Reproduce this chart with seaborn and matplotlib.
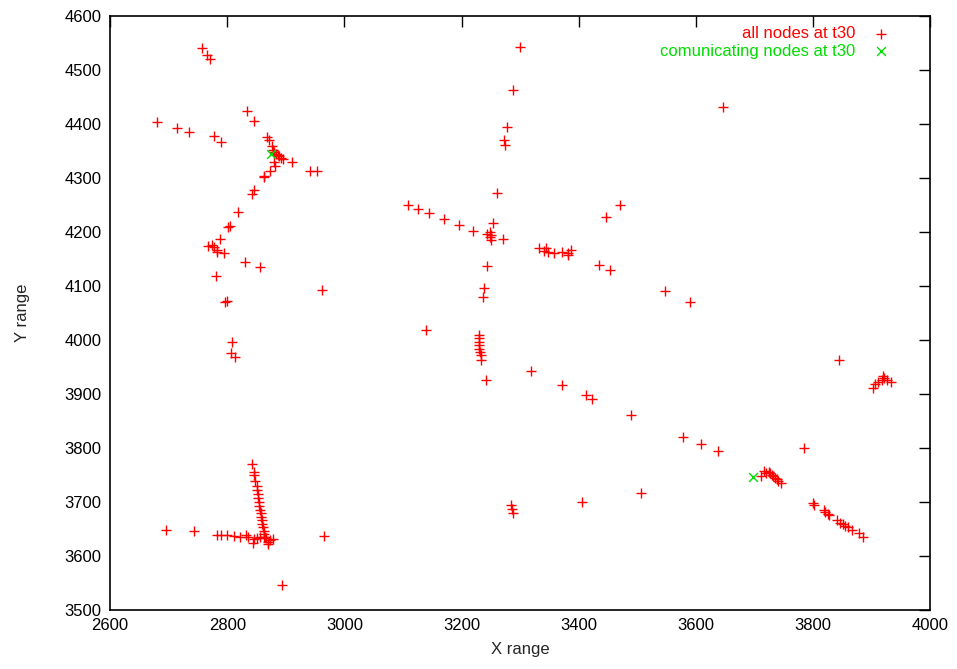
import matplotlib
matplotlib.use("Agg")
import matplotlib.pyplot as plt
import seaborn as sns
import pandas as pd

all_x = [
    2757, 2765, 2770,
    2680, 2715, 2735, 2778, 2790, 2833, 2845,
    2868, 2872, 2876, 2878, 2880, 2883, 2886, 2889, 2892, 2895, 2910, 2880, 2882, 2873, 2863, 2862,
    2941, 2954,
    2845, 2842, 2819, 2802, 2804, 2788, 2768, 2774, 2778, 2782, 2783, 2795, 2830, 2856, 2780, 2962,
    2797, 2800, 2808, 2806, 2814,
    2842, 2845, 2846, 2848, 2850, 2851, 2852, 2853, 2854, 2855, 2856, 2857, 2858, 2859, 2860, 2861,
    2862, 2863, 2864,
    2695, 2743, 2782, 2790, 2800, 2812, 2822, 2832, 2836, 2845, 2844, 2850, 2856, 2862, 2867, 2870,
    2873, 2878, 2869, 2966, 2894,
    3299, 3287, 3277, 3273, 3275, 3260,
    3108, 3125, 3145, 3170, 3196, 3220, 3254, 3243, 3249, 3250, 3250, 3249, 3270,
    3332, 3340, 3345, 3348, 3357, 3371, 3381, 3382, 3386,
    3447, 3470, 3434, 3454, 3547, 3590, 3647,
    3243, 3238, 3237, 3140,
    3230, 3230, 3229, 3229, 3230, 3232, 3233, 3233,
    3241, 3318, 3371, 3413, 3422, 3490, 3507, 3406, 3285, 3286, 3288,
    3578, 3609, 3637, 3845, 3784,
    3902, 3906, 3911, 3917, 3919, 3921, 3926, 3933,
    3712, 3717, 3720, 3724, 3727, 3730, 3732, 3735, 3738, 3741, 3745,
    3800, 3801,
    3818, 3821, 3825, 3828, 3841, 3846, 3851, 3855, 3859, 3866, 3878, 3886,
]
all_y = [
    4540, 4528, 4520,
    4403, 4392, 4385, 4378, 4366, 4425, 4405,
    4376, 4370, 4360, 4352, 4348, 4345, 4342, 4340, 4337, 4335, 4329, 4330, 4322, 4313, 4304, 4302,
    4313, 4314,
    4278, 4270, 4238, 4210, 4212, 4187, 4174, 4176, 4172, 4167, 4164, 4162, 4145, 4136, 4119, 4093,
    4070, 4072, 3997, 3977, 3969,
    3770, 3756, 3751, 3740, 3730, 3722, 3715, 3708, 3700, 3693, 3686, 3680, 3673, 3666, 3660, 3653,
    3647, 3641, 3636,
    3648, 3647, 3640, 3640, 3640, 3638, 3636, 3639, 3636, 3632, 3625, 3633, 3635, 3635, 3633, 3627,
    3630, 3632, 3622, 3638, 3546,
    4543, 4464, 4394, 4370, 4362, 4273,
    4250, 4243, 4235, 4224, 4213, 4202, 4217, 4196, 4201, 4194, 4186, 4191, 4187,
    4170, 4165, 4170, 4164, 4162, 4164, 4162, 4157, 4167,
    4228, 4251, 4139, 4130, 4090, 4070, 4432,
    4138, 4096, 4080, 4018,
    4009, 4003, 3997, 3991, 3984, 3978, 3972, 3964,
    3926, 3942, 3916, 3898, 3891, 3861, 3716, 3701, 3694, 3687, 3680,
    3820, 3807, 3794, 3964, 3800,
    3912, 3918, 3923, 3927, 3933, 3929, 3926, 3923,
    3748, 3758, 3754, 3756, 3753, 3751, 3748, 3745, 3742, 3740, 3735,
    3698, 3694,
    3685, 3682, 3678, 3676, 3667, 3662, 3659, 3656, 3653, 3648, 3642, 3635,
]
comm_x = [2875, 3697]
comm_y = [4344, 3747]

x_ticks = [2600, 2800, 3000, 3200, 3400, 3600, 3800, 4000]
y_ticks = [3500, 3600, 3700, 3800, 3900, 4000, 4100, 4200, 4300, 4400, 4500, 4600]

sns.set_theme(style="white")
plt.rcParams['font.family'] = ['Liberation Sans', 'DejaVu Sans']

df_all = pd.DataFrame({"x": all_x, "y": all_y})
df_comm = pd.DataFrame({"x": comm_x, "y": comm_y})

fig = plt.figure(figsize=(9.57, 6.69), dpi=100)
ax = fig.add_axes([0.115, 0.088, 0.857, 0.888])

sns.scatterplot(data=df_all, x="x", y="y", marker="+", color="#ff0000", s=60,
                linewidth=1.0, ax=ax, label="all nodes at t30", zorder=3)
sns.scatterplot(data=df_comm, x="x", y="y", marker="x", color="#00dd00", s=40,
                linewidth=1.0, ax=ax, label="comunicating nodes at t30", zorder=4)

ax.set_xlim(2600, 4000)
ax.set_ylim(3500, 4600)
ax.set_xticks(x_ticks)
ax.set_yticks(y_ticks)
ax.tick_params(direction="in", length=8, width=1, top=True, right=True,
               labelsize=12, colors="black", pad=6)
for sp in ax.spines.values():
    sp.set_color("black")
    sp.set_linewidth(1.2)
ax.set_xlabel("X range", fontsize=12, labelpad=6)
ax.set_ylabel("Y range", fontsize=12, labelpad=25)

leg = ax.legend(loc="upper right", bbox_to_anchor=(0.972, 1.0), frameon=False,
                markerfirst=False, fontsize=12, labelcolor=["#ff0000", "#00dd00"],
                handletextpad=0.5, borderaxespad=0.2, labelspacing=0.15)

fig.savefig("out.png", dpi=100)
